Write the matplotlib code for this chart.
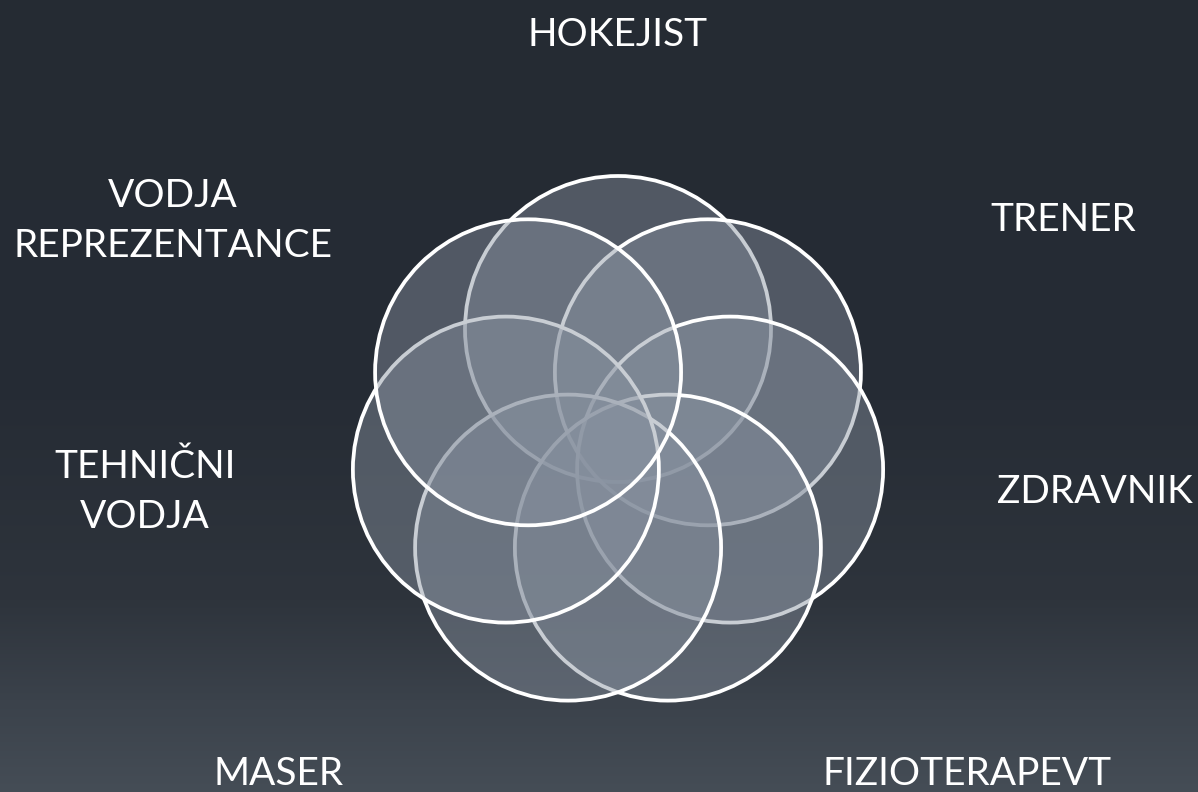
import numpy as np
import matplotlib.pyplot as plt
from matplotlib.patches import Circle

# roles around the ring, clockwise from the top
roles = ['HOKEJIST', 'TRENER', 'ZDRAVNIK', 'FIZIOTERAPEVT', 'MASER',
         'TEHNIČNI\nVODJA', 'VODJA\nREPREZENTANCE']

# layout (pixel space)
W, H = 1198, 792
ring_center = (618, 444)
ring_radius = 115
circle_radius = 153
label_xy = [(618, 35), (1063, 220), (1095, 492), (967, 774), (279, 774),
            (145, 492), (173, 221)]

fig = plt.figure(figsize=(W / 100, H / 100), dpi=100)
ax = fig.add_axes([0, 0, 1, 1])
ax.set_xlim(0, W)
ax.set_ylim(H, 0)
ax.axis('off')

# background: dark slate, lighter towards the bottom
stop_y = [0, 400, 600, 700, 792]
stop_rgb = np.array([[37, 43, 51], [38, 44, 53], [46, 52, 60], [59, 66, 75], [69, 77, 86]]) / 255
ys = np.arange(H)
grad = np.stack([np.interp(ys, stop_y, stop_rgb[:, c]) for c in range(3)], axis=1)
ax.imshow(grad[:, None, :], extent=[0, W, H, 0], aspect='auto', zorder=0)

face = (135 / 255, 145 / 255, 159 / 255, 0.45)
n = len(roles)
for k in range(n):
    theta = np.deg2rad(-90 + k * 360 / n)
    cx = ring_center[0] + ring_radius * np.cos(theta)
    cy = ring_center[1] + ring_radius * np.sin(theta)
    ax.add_patch(Circle((cx, cy), circle_radius, facecolor=face,
                        edgecolor='white', linewidth=2.7, zorder=2 + k))

for name, (x, y) in zip(roles, label_xy):
    ax.text(x, y, name, ha='center', va='center', multialignment='center',
            color='white', fontsize=28, family='Lato', linespacing=1.5, zorder=20)

fig.savefig('out.png', dpi=100)
